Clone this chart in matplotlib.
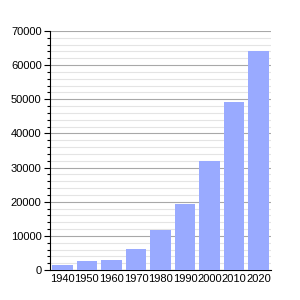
import matplotlib.pyplot as plt
from matplotlib.ticker import MultipleLocator

years = ["1940", "1950", "1960", "1970", "1980", "1990", "2000", "2010", "2020"]
population = [1500, 2700, 3000, 6200, 11700, 19400, 31900, 49300, 64150]

plt.rcParams['font.family'] = ['Liberation Sans', 'DejaVu Sans']

fig = plt.figure(figsize=(3, 3), dpi=100)
ax = fig.add_axes([50 / 300, 30 / 300, 221 / 300, 239 / 300])

ax.bar(range(len(years)), population, width=0.84, color='#99aaff', zorder=3)

ax.set_xlim(-0.5, len(years) - 0.5)
ax.set_ylim(0, 70000)
ax.yaxis.set_major_locator(MultipleLocator(10000))
ax.yaxis.set_minor_locator(MultipleLocator(2000))
ax.set_xticks(range(len(years)))
ax.set_xticklabels(years)

ax.grid(which='major', axis='y', color='#a8a8a8', linewidth=0.8, zorder=0)
ax.grid(which='minor', axis='y', color='#e4e4e4', linewidth=0.8, zorder=0)

for s in ['top', 'right']:
    ax.spines[s].set_visible(False)
ax.spines['left'].set_linewidth(0.8)
ax.spines['bottom'].set_linewidth(0.8)

ax.tick_params(axis='y', which='major', length=4, width=0.8, labelsize=8, pad=2)
ax.tick_params(axis='y', which='minor', length=2, width=0.8)
ax.tick_params(axis='x', length=0, labelsize=8, pad=3)

fig.savefig('out.png', dpi=100)
